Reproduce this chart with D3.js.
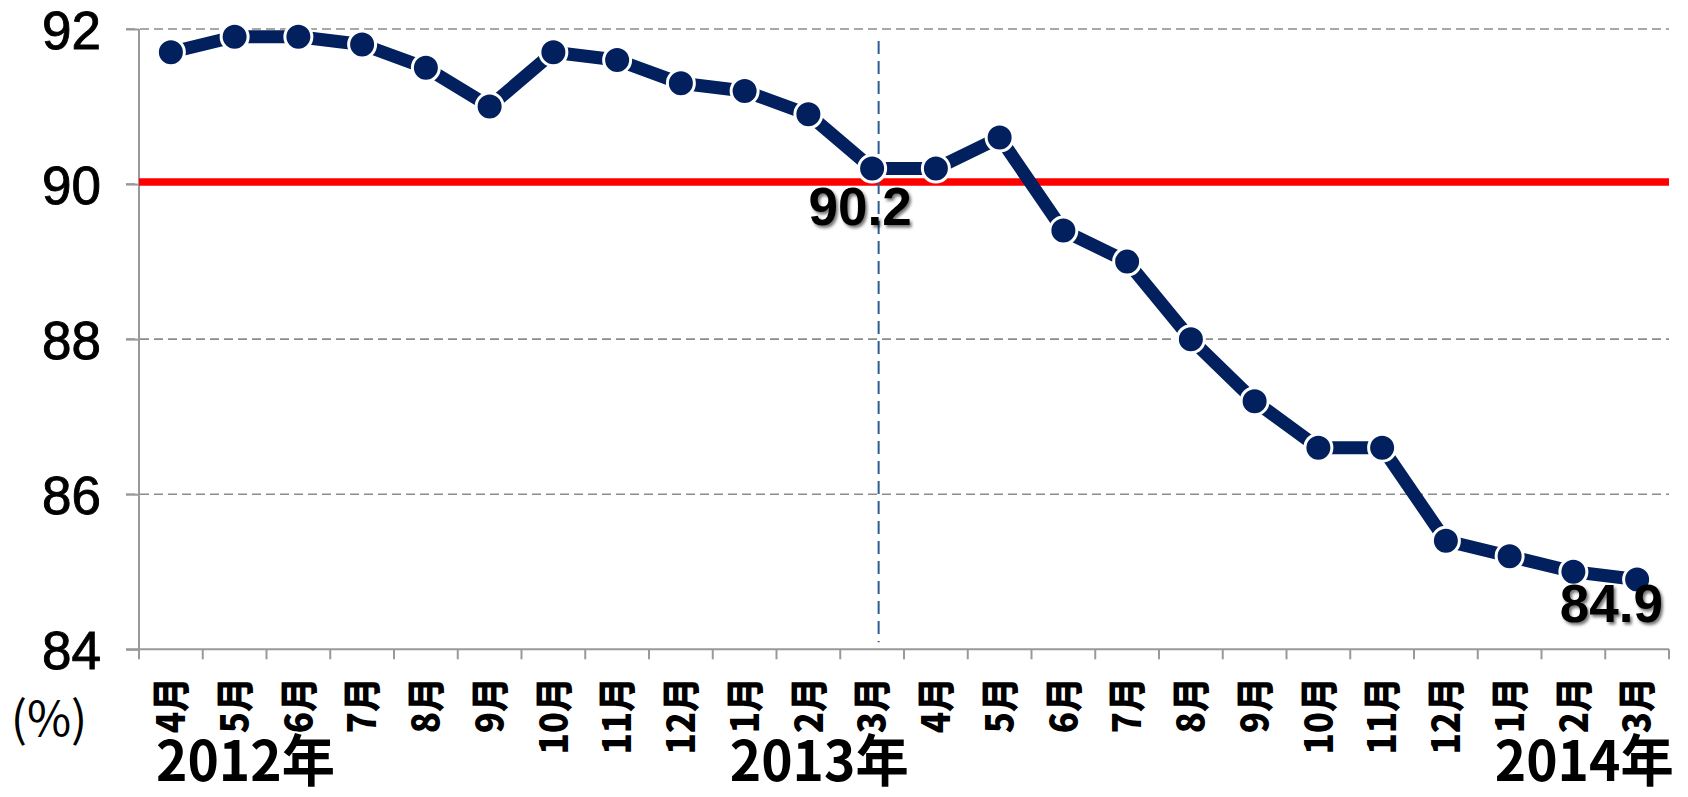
<!DOCTYPE html>
<html>
<head>
<meta charset="utf-8">
<script src="https://cdn.jsdelivr.net/npm/d3@7"></script>
<style>
  html, body { margin: 0; padding: 0; background: #fff; }
  svg { display: block; }
</style>
</head>
<body>
<svg id="chart" width="1688" height="797"></svg>
<script>
// ---- data ----
const periods = ["2012-04","2012-05","2012-06","2012-07","2012-08","2012-09","2012-10","2012-11","2012-12",
                 "2013-01","2013-02","2013-03","2013-04","2013-05","2013-06","2013-07","2013-08","2013-09",
                 "2013-10","2013-11","2013-12","2014-01","2014-02","2014-03"];
const monthLabels = ["4月","5月","6月","7月","8月","9月","10月","11月","12月","1月","2月","3月",
                     "4月","5月","6月","7月","8月","9月","10月","11月","12月","1月","2月","3月"];
const values = [91.7, 91.9, 91.9, 91.8, 91.5, 91.0, 91.7, 91.6, 91.3, 91.2, 90.9, 90.2,
                 90.2, 90.6, 89.4, 89.0, 88.0, 87.2, 86.6, 86.6, 85.4, 85.2, 85.0, 84.9];
const yTicks = [84, 86, 88, 90, 92];
const yTickLabels = ["84", "86", "88", "90", "92"];
const referenceValue = 90;
const markerPeriod = "2013-03";
const yearLabels = ["2012年", "2013年", "2014年"];
const yearStartPeriods = ["2012-04", "2013-01", "2014-01"];
const annotatedPeriods = ["2013-03", "2014-03"];
const annotatedTexts = ["90.2", "84.9"];
const unitLabel = "(%)";

// ---- layout ----
const svg = d3.select("#chart");
const plot = { left: 139, right: 1669, top: 29, bottom: 649.3 };
const x = d3.scaleBand().domain(periods).range([plot.left, plot.right]).padding(0);
const y = d3.scaleLinear().domain([84, 92]).range([plot.bottom, plot.top]);
const cx = p => x(p) + x.bandwidth() / 2;

const defs = svg.append("defs");
const f = defs.append("filter").attr("id", "shadow").attr("x", "-20%").attr("y", "-20%").attr("width", "140%").attr("height", "160%");
f.append("feDropShadow").attr("dx", 2).attr("dy", 2.5).attr("stdDeviation", 1.6).attr("flood-color", "#000").attr("flood-opacity", 0.55);

// gridlines (dashed)
svg.append("g").selectAll("line").data(yTicks.filter(v => v !== 84)).join("line")
  .attr("x1", plot.left - 13).attr("x2", plot.right)
  .attr("y1", d => y(d)).attr("y2", d => y(d))
  .attr("stroke", "#8c8c8c").attr("stroke-width", 1.6).attr("stroke-dasharray", "9,5");

// y axis
const yAxis = d3.axisLeft(y).tickValues(yTicks).tickFormat((d, i) => yTickLabels[i]).tickSize(13).tickPadding(0);
const gy = svg.append("g").attr("transform", `translate(${plot.left},0)`).call(yAxis);
gy.select(".domain").attr("stroke", "#999").attr("stroke-width", 2).attr("d", `M0,${plot.top}V${plot.bottom}`);
gy.selectAll(".tick line").attr("stroke", "#999").attr("stroke-width", 2);
gy.selectAll(".tick text")
  .attr("x", -38).attr("dy", "0.36em")
  .attr("font-family", "'Liberation Sans', Arial, sans-serif")
  .attr("font-size", 53).attr("fill", "#000").attr("stroke", "#000").attr("stroke-width", 0.9)
  .attr("text-anchor", "end");

// x axis
const xAxis = d3.axisBottom(x).tickValues([]).tickSizeOuter(0);
const gx = svg.append("g").attr("transform", `translate(0,${plot.bottom})`).call(xAxis);
gx.select(".domain").attr("stroke", "#999").attr("stroke-width", 2).attr("d", `M${plot.left - 13},0H${plot.right}`);
const boundaries = periods.map(p => x(p)).concat([plot.right]);
gx.selectAll(".xtick").data(boundaries).join("line").attr("class", "xtick")
  .attr("x1", d => d).attr("x2", d => d).attr("y1", 0).attr("y2", 10)
  .attr("stroke", "#999").attr("stroke-width", 2);

// month labels (rotated)
svg.append("g").selectAll("text").data(periods).join("text")
  .attr("transform", d => `translate(${cx(d)},${677}) rotate(-90) scale(1,1.1)`)
  .attr("dy", "0.37em")
  .attr("text-anchor", "end")
  .attr("font-family", "'Noto Sans CJK JP', sans-serif")
  .attr("font-weight", 900)
  .attr("font-size", 35)
  .attr("fill", "#000")
  .text((d, i) => monthLabels[i]);

// year labels
svg.append("g").selectAll("text").data(yearLabels).join("text")
  .attr("x", (d, i) => x(yearStartPeriods[i]) + 17)
  .attr("y", 781)
  .attr("font-family", "'Noto Sans CJK JP', sans-serif")
  .attr("font-weight", 700)
  .attr("font-size", 56)
  .attr("textLength", 179)
  .attr("lengthAdjust", "spacingAndGlyphs")
  .attr("fill", "#000")
  .text(d => d);

// unit label
svg.append("text")
  .attr("x", 49).attr("y", 736)
  .attr("text-anchor", "middle")
  .attr("font-family", "'Noto Sans CJK JP', sans-serif")
  .attr("font-size", 48)
  .attr("fill", "#000")
  .text(unitLabel);

// reference red line
svg.append("line")
  .attr("x1", plot.left).attr("x2", plot.right)
  .attr("y1", y(referenceValue) - 2).attr("y2", y(referenceValue) - 2)
  .attr("stroke", "#ff0000").attr("stroke-width", 7.5);

// vertical dashed marker line
svg.append("line")
  .attr("x1", cx(markerPeriod) + 6.5).attr("x2", cx(markerPeriod) + 6.5)
  .attr("y1", 41).attr("y2", plot.bottom - 7)
  .attr("stroke", "#2f5c94").attr("stroke-width", 2).attr("stroke-dasharray", "13,7");

// series line
const line = d3.line().x((d, i) => cx(periods[i])).y(d => y(d));
svg.append("path").datum(values)
  .attr("d", line)
  .attr("fill", "none").attr("stroke", "#02205e").attr("stroke-width", 13).attr("stroke-linejoin", "round");

// markers
svg.append("g").selectAll("circle").data(values).join("circle")
  .attr("cx", (d, i) => cx(periods[i])).attr("cy", d => y(d))
  .attr("r", 13.5)
  .attr("fill", "#02205e").attr("stroke", "#fff").attr("stroke-width", 3);

// data labels
const labelOffsets = [{dx: -12, dy: 56}, {dx: 0, dy: 42}];
svg.append("g").selectAll("text").data(annotatedPeriods).join("text")
  .attr("x", (d, i) => i === 1 ? plot.right - 6 : cx(d) + labelOffsets[i].dx)
  .attr("y", (d, i) => y(values[periods.indexOf(d)]) + labelOffsets[i].dy)
  .attr("text-anchor", (d, i) => i === 1 ? "end" : "middle")
  .attr("font-family", "'Liberation Sans', Arial, sans-serif")
  .attr("font-weight", 700)
  .attr("font-size", 53)
  .attr("fill", "#000")
  .attr("filter", "url(#shadow)")
  .text((d, i) => annotatedTexts[i]);
</script>
</body>
</html>
